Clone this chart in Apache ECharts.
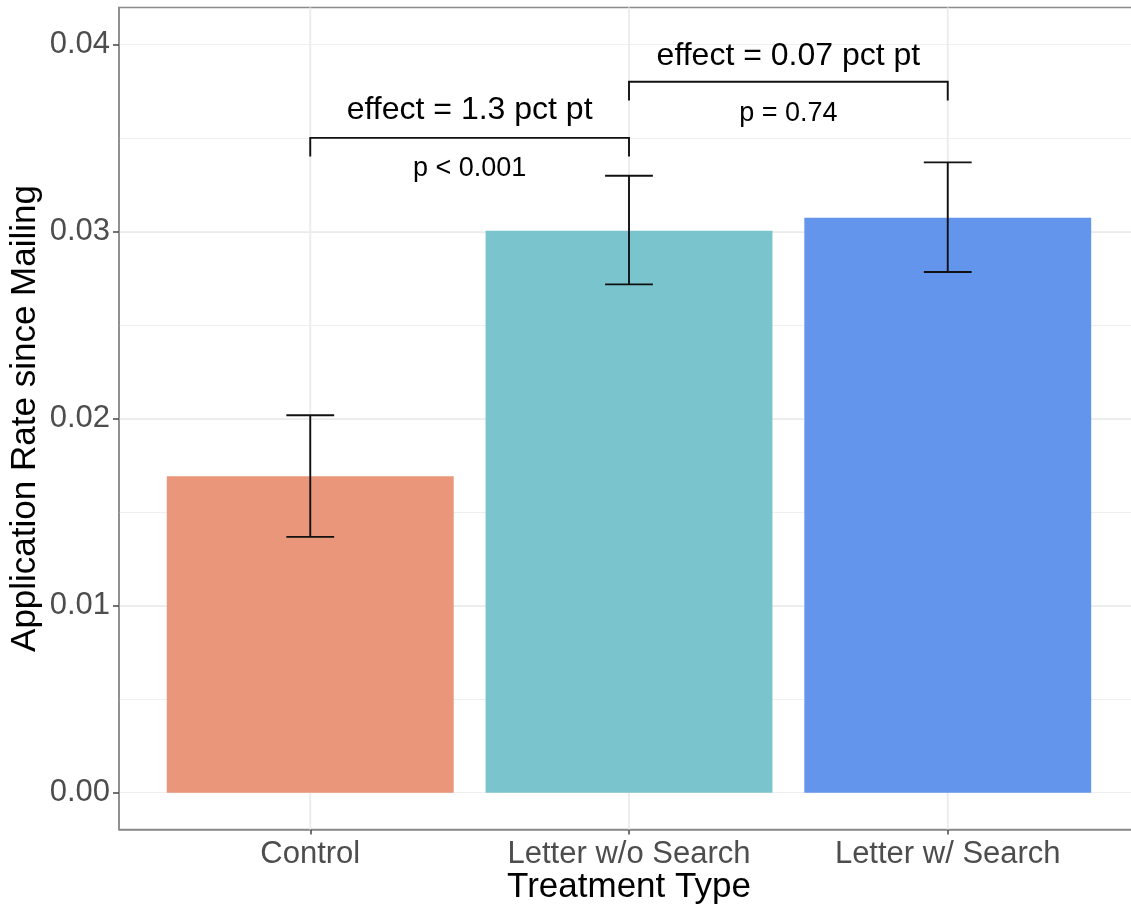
<!DOCTYPE html>
<html><head><meta charset="utf-8">
<script src="https://cdn.jsdelivr.net/npm/echarts@6/dist/echarts.min.js"></script>
<style>html,body{margin:0;padding:0;background:#fff}#c{width:1131px;height:904px}</style>
</head><body><div id="c"></div>
<script>
// ---- data ----
const categories = ['Control', 'Letter w/o Search', 'Letter w/ Search'];
const categoryPos = [1, 2, 3];
const rates = [0.01691, 0.03004, 0.03073];
const errLow = [0.01367, 0.02717, 0.02783];
const errHigh = [0.02017, 0.03298, 0.03369];
const barColors = ['#E9967A', '#7AC5CD', '#6495ED'];
const yTicks = [0, 0.01, 0.02, 0.03, 0.04];
const bracketFrom = [1, 2];
const bracketTo = [2, 3];
const bracketY = [0.035, 0.038];
const bracketDrop = [0.001, 0.001];
const effectLabels = ['effect = 1.3 pct pt', 'effect = 0.07 pct pt'];
const effectY = [0.03646, 0.03936];
const pLabels = ['p < 0.001', 'p = 0.74'];
const pY = [0.03334, 0.03632];
const yMin = -0.00197, yMax = 0.04197;
const xMin = 0.4, xMax = 3.6;

const FONT = '"Liberation Sans", Arial, Helvetica, sans-serif';
const chart = echarts.init(document.getElementById('c'), null, {renderer: 'canvas'});

const gridLine = {color: '#EBEBEB', width: 1.8};
const option = {
  animation: false,
  backgroundColor: '#fff',
  textStyle: {fontFamily: FONT},
  grid: {left: 119, right: -8, top: 7.5, bottom: 74.5, show: true, borderColor: '#8a8a8a', borderWidth: 1.5,
         backgroundColor: 'transparent', containLabel: false, outerBoundsMode: 'none'},
  xAxis: [{
    type: 'value', min: xMin, max: xMax,
    axisLine: {show: true, onZero: false, lineStyle: {color: '#8a8a8a', width: 1.5}},
    axisTick: {show: true, customValues: categoryPos, length: 5, lineStyle: {color: '#444', width: 1.5}},
    axisLabel: {customValues: categoryPos, formatter: v => categories[Math.round(v) - 1] || '',
                fontSize: 31, color: '#4D4D4D', margin: 9, fontFamily: FONT},
    splitLine: {show: false},
    name: 'Treatment Type', nameLocation: 'middle', nameGap: 40, nameMoveOverlap: false,
    nameTextStyle: {fontSize: 35, color: '#000', fontFamily: FONT}
  }],
  yAxis: [{
    type: 'value', min: yMin, max: yMax, splitNumber: 5,
    axisLine: {show: true, onZero: false, lineStyle: {color: '#8a8a8a', width: 1.5}},
    axisTick: {show: true, customValues: yTicks, length: 6, lineStyle: {color: '#444', width: 1.5}},
    axisLabel: {customValues: yTicks, formatter: v => v.toFixed(2), fontSize: 31, color: '#4D4D4D', margin: 9, fontFamily: FONT},
    splitLine: {show: true, showMinLine: false, showMaxLine: false, lineStyle: gridLine},
    name: 'Application Rate since Mailing', nameLocation: 'middle', nameGap: 76, nameMoveOverlap: false,
    nameTextStyle: {fontSize: 35, color: '#000', fontFamily: FONT}
  }, {
    type: 'value', min: yMin, max: yMax, splitNumber: 9, position: 'left',
    axisLine: {show: false}, axisTick: {show: false}, axisLabel: {show: false},
    splitLine: {show: true, showMinLine: false, showMaxLine: false, lineStyle: {color: '#EFEFEF', width: 1}}
  }],
  series: [
    {
      // vertical major gridlines at the category positions
      type: 'custom', xAxisIndex: 0, yAxisIndex: 0, z: 1, silent: true,
      data: categoryPos.map(x => [x]),
      renderItem: (params, api) => {
        const x = api.value(0);
        const a = api.coord([x, yMin]);
        const b = api.coord([x, yMax]);
        return {type: 'line', shape: {x1: a[0], y1: a[1], x2: b[0], y2: b[1]}, style: {stroke: gridLine.color, lineWidth: gridLine.width}};
      }
    },
    {
      type: 'bar', xAxisIndex: 0, yAxisIndex: 0, barWidth: '90%', z: 2,
      data: categoryPos.map((x, i) => ({value: [x, rates[i]], itemStyle: {color: barColors[i]}}))
    },
    {
      type: 'custom', xAxisIndex: 0, yAxisIndex: 0, z: 3,
      data: categoryPos.map((x, i) => [x, errLow[i], errHigh[i]]),
      renderItem: (params, api) => {
        const x = api.value(0);
        const lo = api.coord([x, api.value(1)]);
        const hi = api.coord([x, api.value(2)]);
        const half = api.size([0.075, 0])[0];
        const st = {stroke: '#111', lineWidth: 1.9};
        return {type: 'group', children: [
          {type: 'line', shape: {x1: lo[0], y1: lo[1], x2: hi[0], y2: hi[1]}, style: st},
          {type: 'line', shape: {x1: hi[0] - half, y1: hi[1], x2: hi[0] + half, y2: hi[1]}, style: st},
          {type: 'line', shape: {x1: lo[0] - half, y1: lo[1], x2: lo[0] + half, y2: lo[1]}, style: st}
        ]};
      }
    },
    {
      type: 'custom', xAxisIndex: 0, yAxisIndex: 0, z: 3,
      data: bracketFrom.map((f, i) => [f, bracketTo[i], bracketY[i], bracketDrop[i]]),
      renderItem: (params, api) => {
        const f = api.value(0), t = api.value(1), y = api.value(2), d = api.value(3);
        const pts = [api.coord([f, y - d]), api.coord([f, y]), api.coord([t, y]), api.coord([t, y - d])];
        return {type: 'polyline', shape: {points: pts}, style: {stroke: '#111', lineWidth: 1.9, fill: null}};
      }
    },
    {
      type: 'custom', xAxisIndex: 0, yAxisIndex: 0, z: 4,
      data: bracketFrom.map((f, i) => [(f + bracketTo[i]) / 2, effectY[i], pY[i]]),
      renderItem: (params, api) => {
        const i = params.dataIndex;
        const pe = api.coord([api.value(0), api.value(1)]);
        const pp = api.coord([api.value(0), api.value(2)]);
        return {type: 'group', children: [
          {type: 'text', x: pe[0], y: pe[1], style: {text: effectLabels[i], fontSize: 32, fontFamily: FONT, fill: '#000', align: 'center', verticalAlign: 'middle'}},
          {type: 'text', x: pp[0], y: pp[1], style: {text: pLabels[i], fontSize: 27, fontFamily: FONT, fill: '#000', align: 'center', verticalAlign: 'middle'}}
        ]};
      }
    }
  ]
};
chart.setOption(option);
</script>
</body></html>
